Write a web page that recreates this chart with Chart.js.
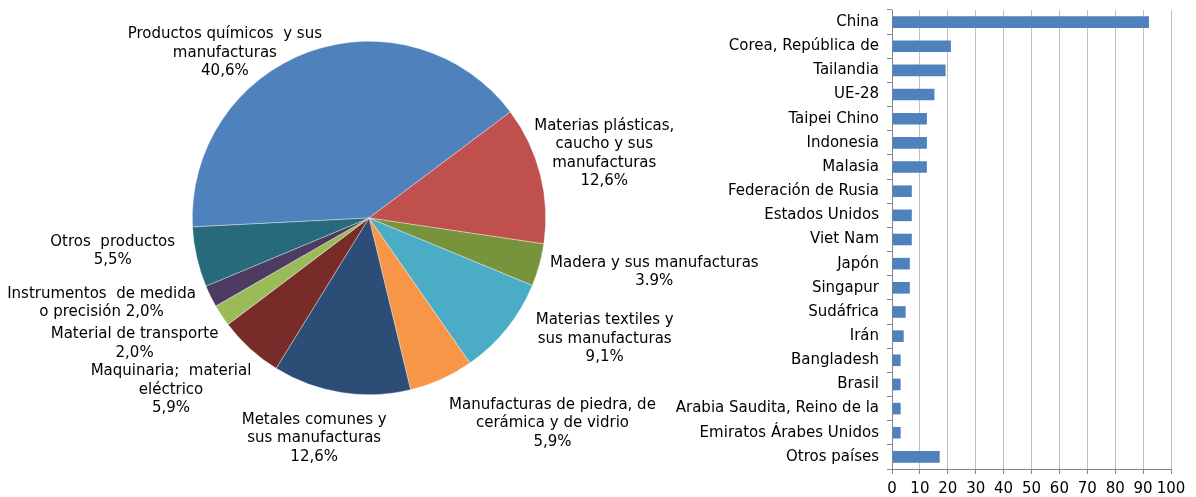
<!DOCTYPE html>
<html>
<head>
<meta charset="utf-8">
<script src="https://cdn.jsdelivr.net/npm/chart.js@4"></script>
<style>
  body { margin: 0; background: #fff; width: 1196px; height: 497px; overflow: hidden; position: relative; }
  #pieBox { position: absolute; left: 0; top: 0; width: 800px; height: 497px; }
  #barBox { position: absolute; left: 660px; top: 0; width: 536px; height: 497px; }
</style>
</head>
<body>
<div id="pieBox"><canvas id="pie"></canvas></div>
<div id="barBox"><canvas id="bar"></canvas></div>
<script>
/// data ///
const productShares = [40.6, 12.6, 3.9, 9.1, 5.9, 12.6, 5.9, 2.0, 2.0, 5.5];
const productLabels = [
  ['Productos químicos  y sus', 'manufacturas', '40,6%'],
  ['Materias plásticas,', 'caucho y sus', 'manufacturas', '12,6%'],
  ['Madera y sus manufacturas', '3.9%'],
  ['Materias textiles y', 'sus manufacturas', '9,1%'],
  ['Manufacturas de piedra, de', 'cerámica y de vidrio', '5,9%'],
  ['Metales comunes y', 'sus manufacturas', '12,6%'],
  ['Maquinaria;  material', 'eléctrico', '5,9%'],
  ['Material de transporte', '2,0%'],
  ['Instrumentos  de medida', 'o precisión 2,0%'],
  ['Otros  productos', '5,5%']
];
const productColors = ['#4F81BD', '#C0504D', '#77933C', '#4BACC6', '#F79646',
                       '#2C4D75', '#772C2A', '#9BBB59', '#4D3B62', '#276A7C'];

const countries = ['China', 'Corea, República de', 'Tailandia', 'UE-28', 'Taipei Chino',
  'Indonesia', 'Malasia', 'Federación de Rusia', 'Estados Unidos', 'Viet Nam', 'Japón',
  'Singapur', 'Sudáfrica', 'Irán', 'Bangladesh', 'Brasil', 'Arabia Saudita, Reino de la',
  'Emiratos Árabes Unidos', 'Otros países'];
const countryValues = [92.1, 21.1, 19.2, 15.2, 12.5, 12.5, 12.5, 7.1, 7.1, 7.1, 6.4,
  6.4, 4.9, 4.2, 3.1, 3.1, 3.1, 3.1, 17.1];
const xTickMax = 100;
const xTickStep = 10;

/// layout of pie labels (offset from outer edge of each slice) ///
const labelNudge = [[-84, 1], [64, -21], [115, 7], [98, 10], [111, 44],
                    [-27, 46], [-79, 41], [-87, 28], [-109, 7], [-84, -6]];

const FONT = 'Verdana, "DejaVu Sans", sans-serif';

const pieLabels = {
  id: 'pieLabels',
  afterDraw(chart) {
    const ctx = chart.ctx;
    const arcs = chart.getDatasetMeta(0).data;
    ctx.save();
    ctx.font = '15px ' + FONT;
    ctx.fillStyle = '#000';
    ctx.textAlign = 'center';
    ctx.textBaseline = 'middle';
    arcs.forEach((arc, i) => {
      const mid = (arc.startAngle + arc.endAngle) / 2;
      const ax = arc.x + Math.cos(mid) * arc.outerRadius + labelNudge[i][0];
      const ay = arc.y + Math.sin(mid) * arc.outerRadius + labelNudge[i][1];
      const lines = productLabels[i];
      const lh = 18.5;
      const y0 = ay - (lines.length - 1) * lh / 2;
      lines.forEach((t, k) => ctx.fillText(t, ax, y0 + k * lh));
    });
    ctx.restore();
  }
};

new Chart(document.getElementById('pie'), {
  type: 'pie',
  data: {
    labels: productLabels.map(l => l.join(' ')),
    datasets: [{
      data: productShares,
      backgroundColor: productColors,
      borderColor: 'rgba(255,255,255,0.6)',
      borderWidth: 0.6
    }]
  },
  options: {
    responsive: true,
    maintainAspectRatio: false,
    animation: false,
    rotation: -92.9,
    layout: { padding: { left: 192, right: 254, top: 41, bottom: 102 } },
    plugins: { legend: { display: false }, tooltip: { enabled: false } }
  },
  plugins: [pieLabels]
});

new Chart(document.getElementById('bar'), {
  type: 'bar',
  data: {
    labels: countries,
    datasets: [{
      data: countryValues,
      backgroundColor: '#4F81BD',
      categoryPercentage: 0.48,
      barPercentage: 1
    }]
  },
  options: {
    indexAxis: 'y',
    responsive: true,
    maintainAspectRatio: false,
    animation: false,
    layout: { padding: { left: 0, right: 25, top: 10, bottom: 0 } },
    plugins: { legend: { display: false }, tooltip: { enabled: false } },
    scales: {
      x: {
        min: 0, max: xTickMax,
        ticks: { stepSize: xTickStep, autoSkip: false, maxRotation: 0, padding: 6,
                 color: '#000', font: { family: FONT, size: 15 } },
        grid: { color: '#BFBFBF', lineWidth: 1, tickLength: 5, tickColor: '#868686' },
        border: { color: '#868686' },
        afterFit(s) { s.height = 28; }
      },
      y: {
        ticks: { color: '#000', padding: 8, autoSkip: false, font: { family: FONT, size: 15 } },
        grid: { drawOnChartArea: false, offset: true, tickLength: 5, color: '#868686' },
        border: { color: '#868686' },
        afterFit(s) { s.width = 232; s.paddingTop = 0; s.paddingBottom = 0; }
      }
    }
  }
});
</script>
</body>
</html>
